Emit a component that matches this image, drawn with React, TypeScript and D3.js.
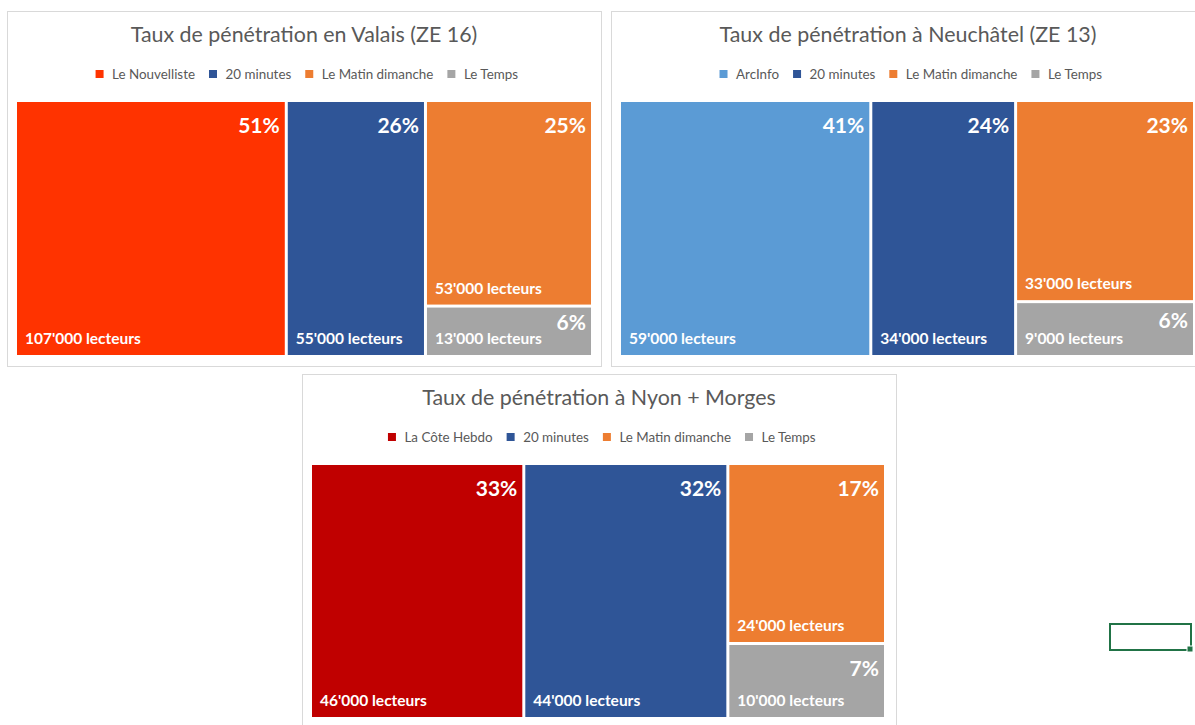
import React from "react";
import * as d3 from "d3";

// ---------- DATA ----------
const valaisTitle = "Taux de pénétration en Valais (ZE 16)";
const valaisNames = ["Le Nouvelliste", "20 minutes", "Le Matin dimanche", "Le Temps"];
const valaisReaders = [107000, 55000, 53000, 13000];
const valaisRates = [51, 26, 25, 6];

const neuchatelTitle = "Taux de pénétration à Neuchâtel (ZE 13)";
const neuchatelNames = ["ArcInfo", "20 minutes", "Le Matin dimanche", "Le Temps"];
const neuchatelReaders = [59000, 34000, 33000, 9000];
const neuchatelRates = [41, 24, 23, 6];

const nyonTitle = "Taux de pénétration à Nyon + Morges";
const nyonNames = ["La Côte Hebdo", "20 minutes", "Le Matin dimanche", "Le Temps"];
const nyonReaders = [46000, 44000, 24000, 10000];
const nyonRates = [33, 32, 17, 7];

// ---------- STYLE ----------
const valaisColors = ["#FF3300", "#2F5597", "#ED7D31", "#A5A5A5"];
const neuchatelColors = ["#5B9BD5", "#2F5597", "#ED7D31", "#A5A5A5"];
const nyonColors = ["#C00000", "#2F5597", "#ED7D31", "#A5A5A5"];

const FONT = "Lato, 'Open Sans', sans-serif";
const locale = d3.formatLocale({ decimal: ".", thousands: "'", grouping: [3], currency: ["", ""] });
const fmt = locale.format(",");

let ctx: CanvasRenderingContext2D | null = null;
function measure(text: string, font: string): number {
  if (!ctx) {
    const c = document.createElement("canvas");
    ctx = c.getContext("2d");
  }
  if (!ctx) return text.length * 7;
  ctx.font = font;
  return ctx.measureText(text).width;
}

type PanelProps = {
  x: number; y: number; w: number; h: number;
  tmW: number; tmH: number;
  title: string; names: string[]; readers: number[]; rates: number[]; colors: string[];
};

const LEG_SIZE = 13.4;

function Panel(p: PanelProps) {
  const items = p.names.map((n, i) => ({ name: n, value: p.readers[i], rate: p.rates[i], color: p.colors[i] }));
  const root = d3
    .hierarchy<any>({ children: items })
    .sum((d: any) => d.value || 0)
    .sort((a, b) => (b.value || 0) - (a.value || 0));
  d3.treemap<any>().tile(d3.treemapSquarify.ratio(1)).size([p.tmW, p.tmH]).paddingInner(3).round(false)(root);
  const leaves = root.leaves() as d3.HierarchyRectangularNode<any>[];

  const tmX = p.x + 10;
  const tmY = p.y + 91;

  // legend layout
  const legFont = `${LEG_SIZE}px ${FONT}`;
  const sq = 8, sqGap = 8.5, itemGap = 14;
  const widths = p.names.map((n) => measure(n, legFont));
  const total = widths.reduce((a, b) => a + b, 0) + p.names.length * (sq + sqGap) + (p.names.length - 1) * itemGap;
  let lx = p.x + p.w / 2 - total / 2 + 3;
  const legend = p.names.map((n, i) => {
    const item = { x: lx, name: n, color: p.colors[i] };
    lx += sq + sqGap + widths[i] + itemGap;
    return item;
  });

  return (
    <g>
      <rect x={p.x + 0.5} y={p.y + 0.5} width={p.w} height={p.h} fill="#fff" stroke="#D9D9D9" strokeWidth={1} />
      <text x={p.x + p.w / 2} y={p.y + 31} textAnchor="middle" fontFamily={FONT} fontSize={21.4} fill="#595959">
        {p.title}
      </text>
      {legend.map((l) => (
        <g key={l.name}>
          <rect x={l.x} y={p.y + 59} width={sq} height={sq} fill={l.color} />
          <text x={l.x + sq + sqGap} y={p.y + 67.5} fontFamily={FONT} fontSize={LEG_SIZE} fill="#595959">
            {l.name}
          </text>
        </g>
      ))}
      <g transform={`translate(${tmX},${tmY})`}>
        {leaves.map((lf) => {
          const w = lf.x1 - lf.x0;
          const h = lf.y1 - lf.y0;
          return (
            <g key={lf.data.name}>
              <rect x={lf.x0} y={lf.y0} width={w} height={h} fill={lf.data.color} />
              <text
                x={lf.x1 - 5}
                y={lf.y0 + Math.min(30.5, h * 0.48)}
                textAnchor="end"
                fontFamily={FONT}
                fontWeight="bold"
                fontSize={21}
                fill="#fff"
              >
                {lf.data.rate}%
              </text>
              <text
                x={lf.x0 + 8}
                y={lf.y1 - 11}
                fontFamily={FONT}
                fontWeight="bold"
                fontSize={15.5}
                fill="#fff"
              >
                {fmt(lf.data.value)} lecteurs
              </text>
            </g>
          );
        })}
      </g>
    </g>
  );
}

export default function App() {
  return (
    <svg
      width={1195}
      height={725}
      style={{ position: "absolute", left: 0, top: 0, background: "#fff" }}
    >
      <rect x={0} y={0} width={1195} height={725} fill="#fff" />
      <Panel x={7} y={11} w={594} h={355} tmW={574} tmH={253}
        title={valaisTitle} names={valaisNames} readers={valaisReaders} rates={valaisRates} colors={valaisColors} />
      <Panel x={611} y={11} w={594} h={355} tmW={572} tmH={253}
        title={neuchatelTitle} names={neuchatelNames} readers={neuchatelReaders} rates={neuchatelRates} colors={neuchatelColors} />
      <Panel x={302} y={374} w={594} h={355} tmW={572} tmH={252}
        title={nyonTitle} names={nyonNames} readers={nyonReaders} rates={nyonRates} colors={nyonColors} />
      {/* spreadsheet cell selection */}
      <rect x={1110} y={624} width={81} height={26} fill="none" stroke="#217346" strokeWidth={2} />
      <rect x={1187} y={646} width={6} height={6} fill="#217346" stroke="#fff" strokeWidth={1} />
    </svg>
  );
}
